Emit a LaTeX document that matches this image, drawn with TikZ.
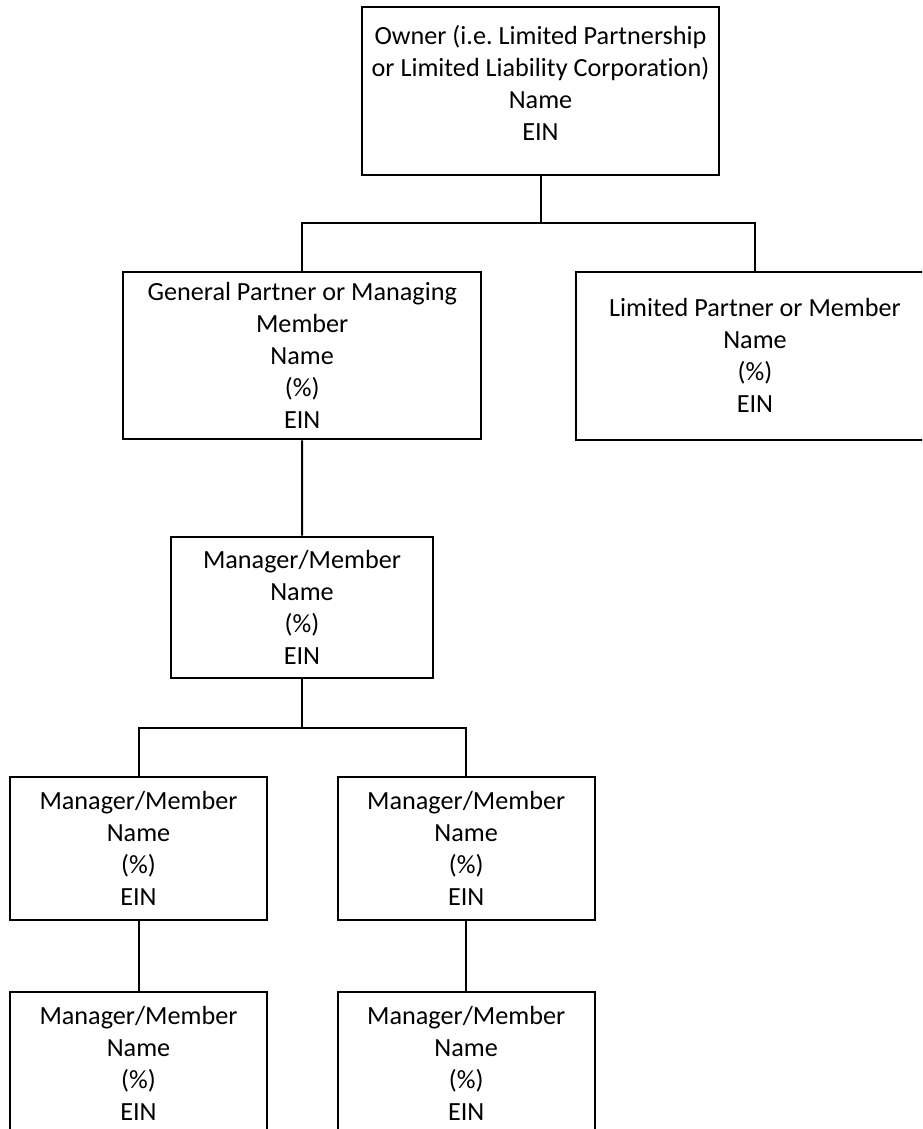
\documentclass[tikz,border=0pt]{standalone}
\usepackage{fontspec}
\setmainfont{Carlito}[Ligatures=NoCommon]
\frenchspacing

\begin{document}
\begin{tikzpicture}[x=1pt, y=-1pt, line width=2pt, every node/.style={font=\fontsize{26.2}{32}\selectfont},
  orgbox/.style={draw, align=center, inner sep=0pt, minimum width=257pt, minimum height=143pt},
  widebox/.style={orgbox, minimum width=357.7pt, minimum height=167.7pt}]
\useasboundingbox (0,0) rectangle (922,1129);
\clip (0,0) rectangle (922,1129);
\node[widebox, text depth=16pt] (owner) at (540.5,91.2) {Owner (i.e. Limited Partnership\\or Limited Liability Corporation)\\Name\\EIN};
\node[widebox] (gp) at (302.2,355.5) {General Partner or Managing\\Member\\Name\\(\%)\\EIN};
\node[widebox] (lp) at (755,355.8) {Limited Partner or Member\\Name\\(\%)\\EIN};
\node[orgbox, minimum width=262pt, minimum height=141.3pt] (mgr) at (302,607.3) {Manager/Member\\Name\\(\%)\\EIN};
\node[orgbox] (mgrl) at (138.5,848.5) {Manager/Member\\Name\\(\%)\\EIN};
\node[orgbox] (mgrr) at (466.2,848.5) {Manager/Member\\Name\\(\%)\\EIN};
\node[orgbox] (subl) at (138.5,1063.2) {Manager/Member\\Name\\(\%)\\EIN};
\node[orgbox] (subr) at (466.2,1063.2) {Manager/Member\\Name\\(\%)\\EIN};
\coordinate (bus1) at (540.5,223.3);
\coordinate (bus2) at (302,728.3);
\draw (owner.south) -- (bus1);
\draw (gp.north) |- (bus1) -| (lp.north);
\draw (gp.south) -- (mgr.north);
\draw (mgr.south) -- (bus2);
\draw (mgrl.north) |- (bus2) -| (mgrr.north);
\draw (mgrl.south) -- (subl.north);
\draw (mgrr.south) -- (subr.north);
\end{tikzpicture}
\end{document}
